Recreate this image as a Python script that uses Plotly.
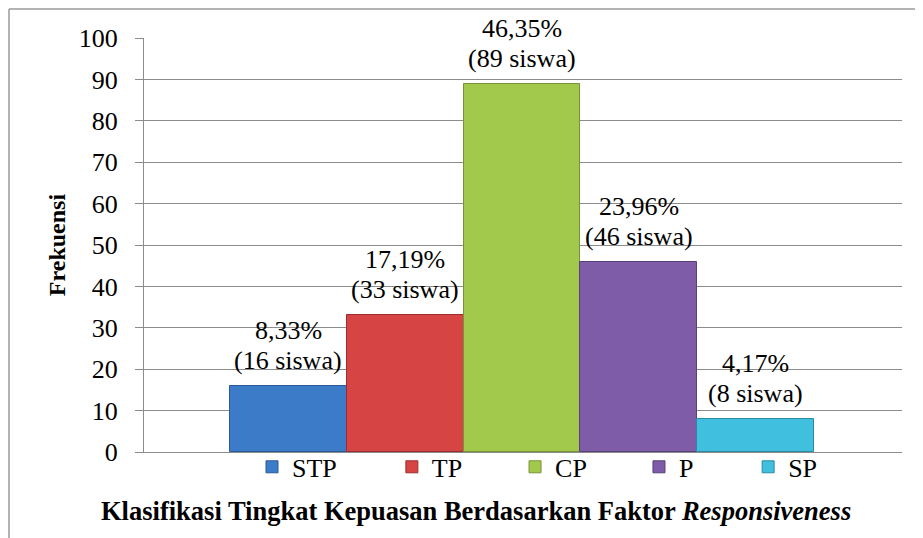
import plotly.graph_objects as go

categories = ["STP", "TP", "CP", "P", "SP"]
counts = [16, 33, 89, 46, 8]
percents = ["8,33%", "17,19%", "46,35%", "23,96%", "4,17%"]
colors = ["#3c7bc8", "#d64444", "#a2c94c", "#7e5ca8", "#40bfdf"]
edges = ["#2a5b96", "#9a2e2e", "#76933a", "#55407a", "#2b8aa3"]
y_ticks = [0, 10, 20, 30, 40, 50, 60, 70, 80, 90, 100]

FONT = "Liberation Serif"
# legend entry positions (paper x) for each series
legend_x = [0.1425, 0.327, 0.4895, 0.653, 0.797]

fig = go.Figure()
for i, (cat, val, col, edge) in enumerate(zip(categories, counts, colors, edges)):
    fig.add_trace(go.Bar(
        x=[cat], y=[val], name=cat,
        marker=dict(color=col, line=dict(color=edge, width=1)),
        width=1.0,
        legend="legend" if i == 0 else f"legend{i+1}",
    ))

for cat, val, pct in zip(categories, counts, percents):
    fig.add_annotation(
        x=cat, y=val, xref="x", yref="y",
        text=f"({val} siswa)",
        showarrow=False, yanchor="bottom", yshift=9,
        font=dict(family=FONT, size=26, color="black"),
    )
    fig.add_annotation(
        x=cat, y=val, xref="x", yref="y",
        text=pct,
        showarrow=False, yanchor="bottom", yshift=39,
        font=dict(family=FONT, size=26, color="black"),
    )

fig.add_annotation(
    x=0.438, y=-0.1425, xref="paper", yref="paper",
    text="<b>Klasifikasi Tingkat Kepuasan Berdasarkan Faktor <i>Responsiveness</i></b>",
    showarrow=False, xanchor="center", yanchor="middle",
    font=dict(family=FONT, size=26.5, color="black"),
)

fig.add_shape(type="line", xref="paper", yref="paper",
              x0=-0.1781, x1=1.06, y0=1.070, y1=1.070,
              line=dict(color="#9a9a9a", width=1.5))
fig.add_shape(type="line", xref="paper", yref="paper",
              x0=-0.1781, x1=-0.1781, y0=1.070, y1=-0.25,
              line=dict(color="#9a9a9a", width=1.5))

legends = {}
for i, lx in enumerate(legend_x):
    key = "legend" if i == 0 else f"legend{i+1}"
    legends[key] = dict(
        orientation="h", x=lx, xanchor="left", y=-0.036, yanchor="middle",
        font=dict(family=FONT, size=26, color="black"),
        bgcolor="rgba(0,0,0,0)",
    )

fig.update_layout(
    width=923, height=538,
    margin=dict(l=136, r=29, t=30, b=94, autoexpand=False),
    paper_bgcolor="white", plot_bgcolor="white",
    barmode="overlay", bargap=0,
    font=dict(family=FONT, size=26, color="black"),
    showlegend=True,
    xaxis=dict(
        type="category", categoryorder="array", categoryarray=categories,
        range=[-1.236, 5.253], showticklabels=False, ticks="",
        showgrid=False, showline=True, linecolor="#8c8c8c", linewidth=1.3,
        zeroline=False, automargin=False,
    ),
    yaxis=dict(
        range=[0, 100], tickvals=y_ticks, ticktext=[str(v) for v in y_ticks],
        showgrid=True, gridcolor="#8c8c8c", gridwidth=1.3,
        showline=True, linecolor="#8c8c8c", linewidth=1.3,
        ticks="outside", ticklen=8, tickcolor="#8c8c8c", tickwidth=1.3,
        ticklabelstandoff=12, automargin=False,
        tickfont=dict(family=FONT, size=26, color="black"),
        title=dict(text="<b>Frekuensi</b>", standoff=6,
                   font=dict(family=FONT, size=24, color="black")),
        zeroline=False,
    ),
    **legends,
)

fig.write_html("out.html")
